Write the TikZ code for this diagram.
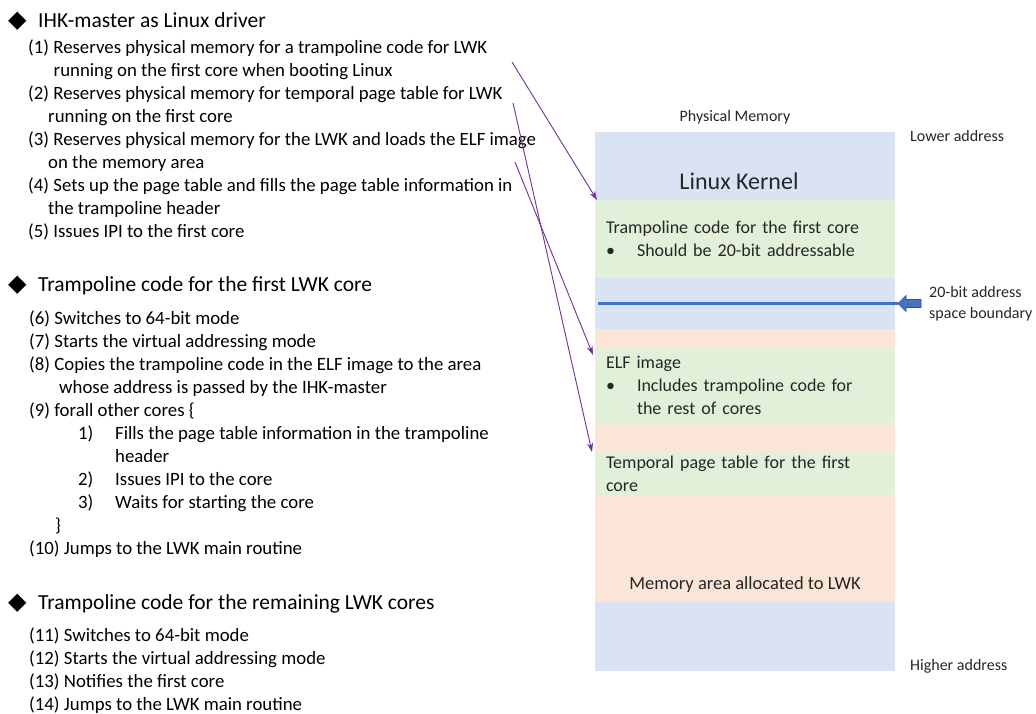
\documentclass[tikz,border=0pt]{standalone}
\usepackage{fontspec}
\setmainfont{Carlito}
\newfontfamily\symfont{DejaVu Sans}
\usetikzlibrary{arrows.meta, positioning, calc}

\definecolor{memblue}{HTML}{DAE3F3}
\definecolor{memgreen}{HTML}{E2F0D9}
\definecolor{memorange}{HTML}{FBE5D6}
\definecolor{lineblue}{HTML}{4472C4}
\definecolor{edgeblue}{HTML}{2F528F}
\definecolor{ptrpurple}{HTML}{7030A0}
\definecolor{textgray}{HTML}{262626}

\tikzset{
    region/.style={fill=#1, draw=none, minimum width=300pt, inner sep=0pt, outer sep=0pt, anchor=north west},
    regiontext/.style={font=\fontsize{18}{23}\selectfont, text=textgray, text width=278pt, align=left, inner xsep=11pt, inner ysep=0pt},
    heading/.style={font=\fontsize{21.5}{23}\selectfont, anchor=base west, inner sep=0pt},
    itemlist/.style={font=\fontsize{18.8}{23}\selectfont, anchor=base west, align=left, inner sep=0pt},
    sidelabel/.style={font=\fontsize{16}{21}\selectfont, text=textgray, align=left, inner sep=0pt},
    ptr/.style={-{Stealth[length=9pt,width=6pt]}, ptrpurple, line width=0.9pt}
}

\begin{document}
\begin{tikzpicture}[x=1pt, y=-1pt]
    \useasboundingbox (0,0) rectangle (1036,713);

    % Memory map (top to bottom = lower to higher address)
    \foreach \name/\top/\height/\col in {kernel/132/68/memblue, tramp/200/78/memgreen,
        gap/278/51/memblue, padone/329/19/memorange, elf/348/75/memgreen,
        padtwo/423/29/memorange, ptable/452/43/memgreen, lwkarea/495/107/memorange,
        upper/602/69/memblue} {
        \node[region=\col, minimum height=\height pt] (\name) at (595,\top) {};
    }

    \node[font=\fontsize{24}{28}\selectfont, text=textgray] (kerneltext)
        at ([xshift=-6pt, yshift=19pt]kernel.south) {Linux Kernel};
    \node[regiontext] (tramptext) at (tramp)
        {Trampoline code for the first core\\
         \makebox[31pt][l]{\textbullet}Should be 20-bit addressable};
    \node[regiontext] (elftext) at (elf)
        {ELF image\\
         \makebox[31pt][l]{\textbullet}Includes trampoline code for\\
         \hspace*{31pt}the rest of cores};
    \node[regiontext] (ptabletext) at (ptable)
        {Temporal page table for the first\\core};
    \node[font=\fontsize{18.5}{23}\selectfont, text=textgray] (lwktext)
        at ([yshift=17pt]lwkarea.south) {Memory area allocated to LWK};

    \node[sidelabel] (physlabel) at ([xshift=-10pt, yshift=15pt]kernel.north) {Physical Memory};
    \node[sidelabel, anchor=west] (lowlabel) at ([xshift=15pt, yshift=-4pt]kernel.north east) {Lower address};
    \node[sidelabel, anchor=west] (highlabel) at ([xshift=15pt, yshift=5pt]upper.south east) {Higher address};

    % 20-bit boundary
    \coordinate (bndtip) at ([xshift=3pt]gap.east);
    \draw[lineblue, line width=2.2pt] ([xshift=3pt]gap.west) -- (bndtip);
    \filldraw[fill=lineblue, draw=edgeblue, line width=0.6pt] (bndtip) -- ++(8,-8) -- ++(0,4)
        -- ++(15,0) -- ++(0,8) -- ++(-15,0) -- ++(0,4) -- cycle;
    \node[sidelabel, anchor=west] (bndlabel) at ([xshift=34pt]gap.east)
        {20-bit address\\space boundary};

    % Left column (lists are anchored on their last line)
    \node[heading] (headone) at (8,27)
        {\makebox[30pt][l]{\symfont\fontsize{24}{24}\selectfont ◆}IHK-master as Linux driver};
    \node[itemlist] (listone) at (28,237)
        {(1) Reserves physical memory for a trampoline code for LWK\\
         \hspace*{25.5pt}running on the first core when booting Linux\\
         (2) Reserves physical memory for temporal page table for LWK\\
         \hspace*{20pt}running on the first core\\
         (3) Reserves physical memory for the LWK and loads the ELF image\\
         \hspace*{20pt}on the memory area\\
         (4) Sets up the page table and fills the page table information in\\
         \hspace*{20pt}the trampoline header\\
         (5) Issues IPI to the first core};

    \node[heading] (headtwo) at (8,291)
        {\makebox[30pt][l]{\symfont\fontsize{24}{24}\selectfont ◆}Trampoline code for the first LWK core};
    \node[itemlist] (listtwo) at (29,554)
        {(6) Switches to 64-bit mode\\
         (7) Starts the virtual addressing mode\\
         (8) Copies the trampoline code in the ELF image to the area\\
         \hspace*{30pt}whose address is passed by the IHK-master\\
         (9) forall other cores \{\\
         \hspace*{49pt}\makebox[37pt][l]{1)}Fills the page table information in the trampoline\\
         \hspace*{86pt}header\\
         \hspace*{49pt}\makebox[37pt][l]{2)}Issues IPI to the core\\
         \hspace*{49pt}\makebox[37pt][l]{3)}Waits for starting the core\\
         \hspace*{26pt}\}\\
         (10) Jumps to the LWK main routine};

    \node[heading] (headthree) at (8,609)
        {\makebox[30pt][l]{\symfont\fontsize{24}{24}\selectfont ◆}Trampoline code for the remaining LWK cores};
    \node[itemlist] (listthree) at (29,710)
        {(11) Switches to 64-bit mode\\
         (12) Starts the virtual addressing mode\\
         (13) Notifies the first core\\
         (14) Jumps to the LWK main routine};

    % IHK-master pointers
    \coordinate (fromone) at (512,62);
    \coordinate (fromtwo) at (513,103);
    \coordinate (fromthree) at (515,162);
    \draw[ptr] (fromone) -- ([xshift=2pt]tramp.north west);
    \draw[ptr] (fromtwo) -- ([xshift=-3pt]ptable.north west);
    \draw[ptr] (fromthree) -- ([xshift=-2pt, yshift=-7pt]elf.north west);
\end{tikzpicture}
\end{document}
